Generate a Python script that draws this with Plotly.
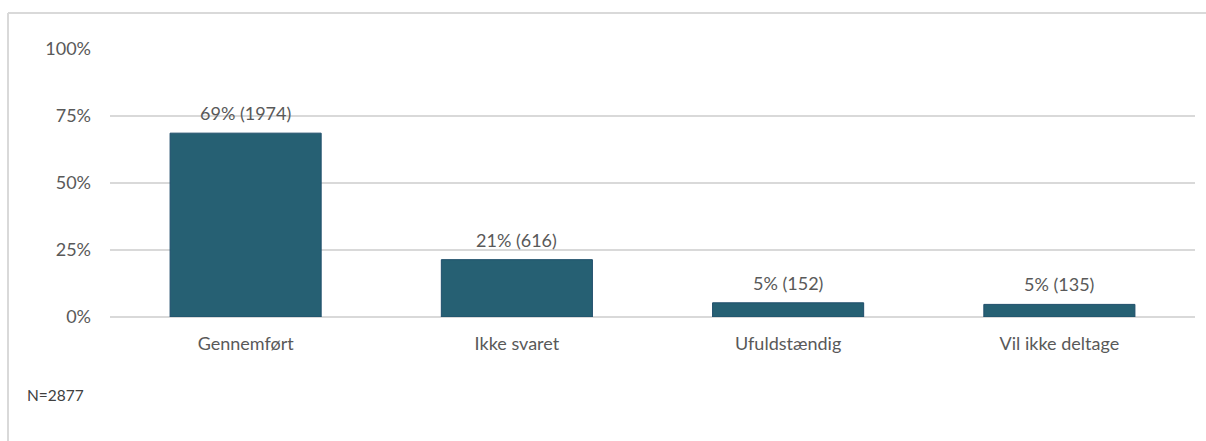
import plotly.graph_objects as go

categories = ["Gennemført", "Ikke svaret", "Ufuldstændig", "Vil ikke deltage"]
shares = [0.686, 0.214, 0.053, 0.047]
counts = [1974, 616, 152, 135]
pct_labels = ["69%", "21%", "5%", "5%"]
y_ticks = [0, 0.25, 0.5, 0.75, 1.0]
y_tick_labels = ["0%", "25%", "50%", "75%", "100%"]
n_total = "N=2877"

W, H = 1206, 441
L, R, T, B = 110, 11, 49, 124
pw, ph = W - L - R, H - T - B

def px_x(x):
    return (x - L) / pw

def px_y(y):
    return (H - B - y) / ph

FONT = "Lato"
TXT = "#595959"
GRID = "#d9d9d9"
FS = 18

texts = [f"{p} ({c})" for p, c in zip(pct_labels, counts)]

fig = go.Figure(go.Bar(
    x=categories, y=shares,
    marker=dict(color="#266073", line=dict(color="#1f4e6b", width=1)),
    width=0.557,
))

annotations = [
    dict(x=c, y=s, xref="x", yref="y", text=t, showarrow=False,
         yanchor="middle", xanchor="center", yshift=20,
         font=dict(family=FONT, size=FS, color=TXT))
    for c, s, t in zip(categories, shares, texts)
]
annotations.append(
    dict(text=n_total, xref="paper", yref="paper",
         x=px_x(25), y=px_y(395), xanchor="left", yanchor="middle",
         showarrow=False, font=dict(family=FONT, size=15.5, color="#404040"))
)

fig.update_layout(
    width=W, height=H,
    margin=dict(l=L, r=R, t=T, b=B),
    paper_bgcolor="white", plot_bgcolor="white",
    showlegend=False,
    font=dict(family=FONT, size=FS, color=TXT),
    xaxis=dict(showgrid=False, showline=False, zeroline=False,
               ticks="outside", ticklen=10, tickcolor="rgba(0,0,0,0)",
               tickfont=dict(family=FONT, size=FS, color=TXT)),
    yaxis=dict(range=[0, 1.0], tickvals=y_ticks, ticktext=y_tick_labels,
               showgrid=True, gridcolor=GRID, gridwidth=1.5,
               zeroline=True, zerolinecolor=GRID, zerolinewidth=1.5,
               showline=False, ticklabelstandoff=18,
               tickfont=dict(family=FONT, size=FS, color=TXT)),
    shapes=[
        dict(type="line", xref="paper", yref="paper",
             x0=px_x(8), x1=px_x(1206), y0=px_y(13), y1=px_y(13),
             line=dict(color=GRID, width=2)),
        dict(type="line", xref="paper", yref="paper",
             x0=px_x(8), x1=px_x(8), y0=px_y(13), y1=px_y(441),
             line=dict(color=GRID, width=2)),
    ],
    annotations=annotations,
)

fig.write_html("out.html", config={"displayModeBar": False},
               post_script="document.body.style.margin='0px';")
